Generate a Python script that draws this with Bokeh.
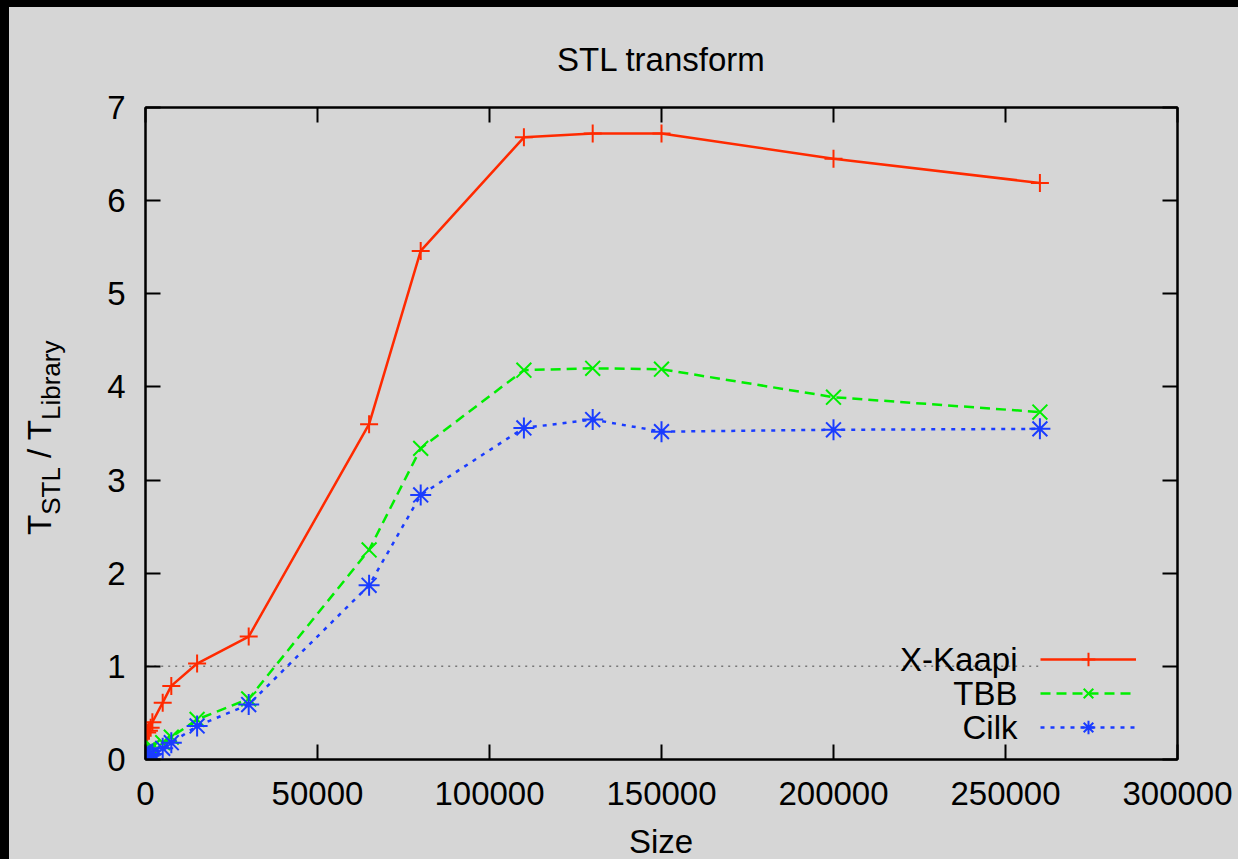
from bokeh.plotting import figure
from bokeh.layouts import column, row
from bokeh.models import (LinearAxis, Label, Legend, LegendItem, FixedTicker, Range1d,
                          NumeralTickFormatter, Spacer, Div)
from bokeh.embed import file_html
from bokeh.resources import INLINE

# ---- data ----
SIZES = [500, 1000, 1500, 2000, 5000, 7500, 15000, 30000, 65000, 80000,
         110000, 130000, 150000, 200000, 260000]
XKAAPI = [0.29, 0.31, 0.34, 0.40, 0.61, 0.79, 1.03, 1.32, 3.60, 5.46,
          6.68, 6.72, 6.72, 6.45, 6.19]
TBB = [0.10, 0.11, 0.12, 0.13, 0.18, 0.24, 0.43, 0.65, 2.25, 3.34,
       4.18, 4.20, 4.19, 3.89, 3.73]
CILK = [0.03, 0.04, 0.05, 0.06, 0.12, 0.18, 0.36, 0.59, 1.87, 2.84,
        3.56, 3.65, 3.52, 3.54, 3.55]
SERIES_NAMES = ["X-Kaapi", "TBB", "Cilk"]
X_TICKS = [0, 50000, 100000, 150000, 200000, 250000, 300000]
Y_TICKS = [0, 1, 2, 3, 4, 5, 6, 7]
TITLE = "STL transform"
X_LABEL = "Size"
Y_LABEL_PARTS = ["T", "STL", " / T", "Library"]   # main, subscript, main, subscript
REF_LEVEL = 1

# ---- style ----
BG = "#d6d6d6"
FONT = "Liberation Sans"
FS = "33px"
COLORS = ["#ff2a00", "#00ee00", "#1a3cff"]
DASHES = ["solid", "10 6", "4 6"]
MARKERS = ["cross", "x", "asterisk"]
MSIZES = [18, 21, 21]

p = figure(width=1163, height=813,
           x_range=Range1d(X_TICKS[0], X_TICKS[-1]),
           y_range=Range1d(Y_TICKS[0], Y_TICKS[-1]),
           output_backend="svg", toolbar_location=None,
           min_border_left=70, min_border_right=61,
           min_border_top=100, min_border_bottom=61,
           background_fill_color=BG, border_fill_color=BG,
           outline_line_color="black", outline_line_width=2)
p.grid.visible = False

p.title.text = TITLE
p.title.align = "center"
p.title.text_font = FONT
p.title.text_font_size = FS
p.title.text_font_style = "normal"
p.title.text_color = "black"
p.title.standoff = 60

def style_axis(ax, ticks, show_labels):
    ax.ticker = FixedTicker(ticks=ticks)
    ax.formatter = NumeralTickFormatter(format="0")
    ax.major_tick_in = 15
    ax.major_tick_out = 0
    ax.minor_tick_line_color = None
    ax.major_tick_line_width = 2
    ax.axis_line_width = 2
    ax.axis_line_color = "black"
    ax.major_tick_line_color = "black"
    ax.major_label_text_font = FONT
    ax.major_label_text_font_size = FS
    ax.major_label_text_color = "black" if show_labels else None

style_axis(p.xaxis[0], X_TICKS, True)
style_axis(p.yaxis[0], Y_TICKS, True)
p.xaxis[0].major_label_standoff = 22
p.yaxis[0].major_label_standoff = 20
ax_top = LinearAxis()
ax_right = LinearAxis()
p.add_layout(ax_top, "above")
p.add_layout(ax_right, "right")
style_axis(ax_top, X_TICKS, False)
style_axis(ax_right, Y_TICKS, False)

# reference level line
p.line([SIZES[0], SIZES[-1]], [REF_LEVEL, REF_LEVEL], line_color="#777777",
       line_width=1.5, line_dash="2 5")

items = []
for ys, c, d, m, ms in zip([XKAAPI, TBB, CILK], COLORS, DASHES, MARKERS, MSIZES):
    lr = p.line(SIZES, ys, line_color=c, line_width=2.5, line_dash=d)
    sr = p.scatter(SIZES, ys, marker=m, size=ms, line_color=c, line_width=2)
    items.append(LegendItem(label=" ", renderers=[lr, sr]))

leg = Legend(items=items, location=(895, 15), glyph_width=96, glyph_height=34,
             spacing=0, padding=0, margin=0, label_standoff=0, label_width=0,
             label_text_font_size="1px", border_line_alpha=0,
             background_fill_alpha=0)
p.add_layout(leg)

# legend texts (right-aligned, left of sample lines)
for i, name in enumerate(SERIES_NAMES):
    p.add_layout(Label(x=872, y=100 - 34 * i, x_units="screen", y_units="screen",
                       text=name, text_align="right", text_baseline="middle",
                       text_font=FONT, text_font_size=FS, text_color="black"))

# ---- y axis label (rotated, with subscripts) ----
sub = '<span style="font-size:26px;position:relative;top:9px">{}</span>'
ylabel_html = (
    '<div style="position:relative;width:66px;height:852px;">'
    '<div style="position:absolute;left:14px;top:528px;transform:rotate(-90deg);'
    'transform-origin:0 0;white-space:nowrap;font-family:\'Liberation Sans\';'
    'font-size:33px;line-height:33px;color:black;">'
    + Y_LABEL_PARTS[0] + sub.format(Y_LABEL_PARTS[1])
    + Y_LABEL_PARTS[2].replace(" ", "&nbsp;", 1) + sub.format(Y_LABEL_PARTS[3])
    + '</div></div>'
)
ydiv = Div(text=ylabel_html, width=66, height=852,
           styles={"background-color": BG, "margin": "0", "padding": "0"})

# ---- x axis label ----
xlabel_html = (
    '<div style="position:relative;width:1163px;height:39px;">'
    '<div style="position:absolute;left:586px;top:7px;transform:translateX(-50%);'
    'white-space:nowrap;font-family:\'Liberation Sans\';font-size:33px;'
    'line-height:30px;color:black;">' + X_LABEL + '</div></div>'
)
xdiv = Div(text=xlabel_html, width=1163, height=39,
           styles={"background-color": BG, "margin": "0", "padding": "0"})

black = {"background-color": "black"}
bgs = {"background-color": BG}
layout = column(Spacer(width=1238, height=7, styles=black),
                row(Spacer(width=9, height=852, styles=black), ydiv,
                    column(p, xdiv, styles=bgs), styles=bgs))

open("out.html", "w").write(file_html(layout, INLINE))
